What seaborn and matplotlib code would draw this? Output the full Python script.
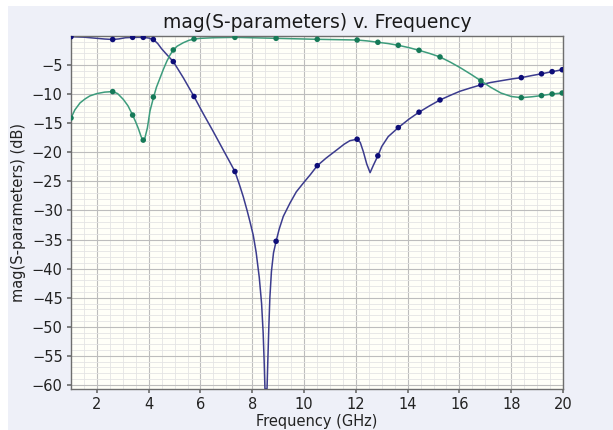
import numpy as np
import pandas as pd
import seaborn as sns
import matplotlib.pyplot as plt
from matplotlib.ticker import MultipleLocator
from matplotlib.patches import Rectangle

# Curve readings (GHz, dB)
s11_freq = [1.0, 1.5, 2.0, 2.3, 2.61, 2.85, 3.1, 3.4, 3.79, 4.0, 4.18, 4.35, 4.5, 4.7, 4.95,
            5.34, 5.75, 6.1, 6.49, 6.88, 7.1, 7.33, 7.5, 7.65, 7.8, 7.91, 8.04, 8.15, 8.27,
            8.36, 8.42, 8.46, 8.49, 8.53, 8.57, 8.6, 8.64, 8.68, 8.74, 8.82, 8.92, 9.04, 9.2, 9.46,
            9.7, 9.97, 10.25, 10.51, 10.85, 11.26, 11.55, 11.77, 12.05, 12.17, 12.29, 12.42,
            12.55, 12.68, 12.85, 13.0, 13.25, 13.64, 14.05, 14.44, 14.85, 15.25, 15.65, 16.02,
            16.45, 16.83, 17.2, 17.6, 18.0, 18.39, 18.8, 19.17, 19.58, 19.97]
s11_db = [-0.12, -0.2, -0.4, -0.52, -0.6, -0.5, -0.3, -0.23, -0.23, -0.35, -0.6, -1.3, -2.2, -3.2, -4.4,
          -7.2, -10.4, -13.3, -16.4, -19.6, -21.4, -23.3, -25.5, -27.6, -30.0, -31.9, -34.3, -37.2, -41.5,
          -46.0, -51.0, -56.0, -60.7, -60.7, -60.7, -56.0, -50.0, -45.0, -40.5, -37.3, -35.3, -33.2, -31.0, -28.7,
          -26.8, -25.3, -23.8, -22.3, -21.0, -19.6, -18.6, -18.0, -17.75, -18.3, -19.9, -22.0,
          -23.5, -22.2, -20.6, -19.0, -17.3, -15.75, -14.3, -13.1, -12.0, -11.0, -10.2, -9.5,
          -8.9, -8.4, -8.0, -7.7, -7.4, -7.16, -6.8, -6.5, -6.13, -5.8]

s21_freq = [1.0, 1.15, 1.35, 1.55, 1.73, 2.0, 2.3, 2.61, 2.8, 3.02, 3.2, 3.38, 3.5, 3.6, 3.7,
            3.77, 3.85, 3.95, 4.05, 4.19, 4.3, 4.44, 4.57, 4.7, 4.82, 4.95, 5.1, 5.34, 5.55,
            5.75, 6.0, 6.5, 7.33, 8.92, 10.51, 12.05, 12.45, 12.85, 13.25, 13.64, 14.05, 14.44,
            14.85, 15.25, 15.65, 16.05, 16.45, 16.83, 17.2, 17.6, 18.0, 18.39, 18.8, 19.17,
            19.58, 19.97]
s21_db = [-14.1, -12.7, -11.5, -10.8, -10.3, -9.9, -9.65, -9.56, -9.9, -10.9, -12.0, -13.6, -14.8, -15.9, -17.2,
          -17.9, -17.6, -15.8, -12.9, -10.5, -8.8, -7.2, -5.7, -4.35, -3.3, -2.4, -1.75, -1.15, -0.75,
          -0.52, -0.4, -0.3, -0.23, -0.4, -0.57, -0.69, -0.85, -1.08, -1.3, -1.6, -2.0, -2.46,
          -3.0, -3.6, -4.5, -5.5, -6.6, -7.7, -8.8, -9.8, -10.4, -10.6, -10.45, -10.25,
          -9.97, -9.8]

# Marker positions
mark_freq = [1.0, 2.61, 3.38, 3.79, 4.18, 4.95, 5.75, 7.33, 8.92, 10.51, 12.05, 12.85,
             13.64, 14.44, 15.25, 16.83, 18.39, 19.17, 19.58, 19.97]
mark_s11 = [-0.12, -0.6, -0.23, -0.23, -0.6, -4.4, -10.4, -23.3, -35.3, -22.3, -17.75, -20.6,
            -15.75, -13.1, -11.0, -8.4, -7.16, -6.5, -6.13, -5.8]
mark_s21 = [-14.1, -9.56, -13.6, -17.9, -10.5, -2.4, -0.52, -0.23, -0.4, -0.57, -0.69, -1.08,
            -1.6, -2.46, -3.6, -7.7, -10.6, -10.25, -9.97, -9.8]

x_ticks = [2, 4, 6, 8, 10, 12, 14, 16, 18, 20]
y_ticks = [-60, -55, -50, -45, -40, -35, -30, -25, -20, -15, -10, -5]

blue_line, blue_mark = '#3c3c8e', '#0d0d78'
green_line, green_mark = '#3d9c7c', '#167a58'

sns.set_theme(style='white')
plt.rcParams['font.family'] = ['DejaVu Sans']

fig = plt.figure(figsize=(6.13, 4.30), dpi=100, facecolor='white')
fig.patches.append(Rectangle((8 / 613, 0), 1, 1 - 6 / 430, transform=fig.transFigure,
                             facecolor='#eef0f8', edgecolor='none', zorder=-1))
ax = fig.add_axes([71 / 613, 1 - 389 / 430, 492 / 613, 353 / 430])
ax.set_facecolor('#fffff8')

df11 = pd.DataFrame({'f': s11_freq, 'db': s11_db})
df21 = pd.DataFrame({'f': s21_freq, 'db': s21_db})
sns.lineplot(data=df11, x='f', y='db', sort=False, estimator=None, color=blue_line, lw=1.1, ax=ax)
sns.lineplot(data=df21, x='f', y='db', sort=False, estimator=None, color=green_line, lw=1.1, ax=ax)
sns.scatterplot(x=mark_freq, y=mark_s11, color=blue_mark, s=16, edgecolor='none', ax=ax, zorder=3)
sns.scatterplot(x=mark_freq, y=mark_s21, color=green_mark, s=16, edgecolor='none', ax=ax, zorder=3)

ax.set_xlim(1, 20)
ax.set_ylim(-60.7, 0)
ax.set_xticks(x_ticks)
ax.set_yticks(y_ticks)
ax.xaxis.set_minor_locator(MultipleLocator(0.5))
ax.yaxis.set_minor_locator(MultipleLocator(1))
ax.grid(True, which='major', color='#bdbdbd', lw=0.8)
ax.grid(True, which='minor', color='#e4e4e4', lw=0.6)
ax.set_axisbelow(True)
for sp in ax.spines.values():
    sp.set_color('#6e6e6e')
    sp.set_linewidth(1.0)
ax.tick_params(which='major', length=3, color='#6e6e6e', labelsize=10.5, labelcolor='#222222', pad=3)
ax.tick_params(which='minor', length=0)
ax.tick_params(axis='x', bottom=True)
ax.tick_params(axis='y', left=True)

ax.set_title('mag(S-parameters) v. Frequency', fontsize=13.5, color='#1a1a1a', pad=6)
ax.set_xlabel('Frequency (GHz)', fontsize=10.5, color='#222222', labelpad=1)
ax.set_ylabel('mag(S-parameters) (dB)', fontsize=10.5, color='#222222', labelpad=4)

fig.savefig('out.png', dpi=100, facecolor=fig.get_facecolor())
